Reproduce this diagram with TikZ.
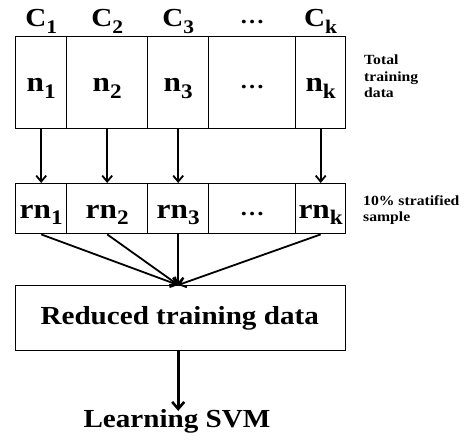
\documentclass[tikz,border=0pt]{standalone}
\usepackage{fontspec}
\setmainfont[FakeStretch=1.12]{Liberation Serif}
\usetikzlibrary{arrows.meta}
% lowered, reduced index for cell and class labels
\newcommand\idx[1]{\raisebox{-0.24em}{\scalebox{0.74}{#1}}}
\tikzset{
  cell/.style={draw, line width=1.4pt, minimum height=92pt, inner sep=0pt, anchor=north west},
  rcell/.style={draw, line width=1.4pt, minimum height=50pt, inner sep=0pt, anchor=north west},
  celltext/.style={font=\bfseries\fontsize{28}{30}\selectfont, inner sep=0pt},
  head/.style={font=\bfseries\fontsize{26}{30}\selectfont, inner sep=0pt, anchor=base},
  side/.style={font=\bfseries\fontsize{14}{16.5}\selectfont, align=left, anchor=north west, inner sep=0pt},
  flow/.style={line width=1.8pt, -{Straight Barb[length=6pt, width=10pt, line width=1.8pt]}},
  bigflow/.style={line width=3.2pt, -{Straight Barb[length=7pt, width=12pt, line width=2.6pt]}}
}
\begin{document}
\begin{tikzpicture}[x=1pt, y=-1pt]
\useasboundingbox (0,0) rectangle (468,441);

% top row: total training data per class
\node[cell, minimum width=51pt] (t1) at (15,36) {};
\node[cell, minimum width=81pt] (t2) at (66,36) {};
\node[cell, minimum width=61pt] (t3) at (147,36) {};
\node[cell, minimum width=87pt] (t4) at (208,36) {};
\node[cell, minimum width=50pt] (tk) at (295,36) {};

\node[celltext, anchor=base] (n1) at (t1.center |- 0,92) {n\idx{1}};
\node[celltext, anchor=base] (n2) at (t2.center |- 0,92) {n\idx{2}};
\node[celltext, anchor=base] (n3) at (t3.center |- 0,92) {n\idx{3}};
\node[celltext, anchor=base] (n4) at (t4.center |- 0,89) {\fontsize{22}{24}\selectfont\ldots};
\node[celltext, anchor=base] (nk) at (tk.center |- 0,92) {n\idx{k}};

% class labels above the columns
\node[head] (c1) at (t1.center |- 0,27) {C\idx{1}};
\node[head] (c2) at (t2.center |- 0,27) {C\idx{2}};
\node[head] (c3) at (t3.center |- 0,27) {C\idx{3}};
\node[head] (c4) at (t4.center |- 0,24) {\fontsize{22}{24}\selectfont\ldots};
\node[head] (ck) at (tk.center |- 0,27) {C\idx{k}};

% second row: stratified sample
\node[rcell, minimum width=51pt] (r1) at (15,183) {};
\node[rcell, minimum width=81pt] (r2) at (66,183) {};
\node[rcell, minimum width=61pt] (r3) at (147,183) {};
\node[rcell, minimum width=87pt] (r4) at (208,183) {};
\node[rcell, minimum width=50pt] (rk) at (295,183) {};

\node[celltext, anchor=base] (rn1) at (r1.center |- 0,218) {rn\idx{1}};
\node[celltext, anchor=base] (rn2) at (r2.center |- 0,218) {rn\idx{2}};
\node[celltext, anchor=base] (rn3) at (r3.center |- 0,218) {rn\idx{3}};
\node[celltext, anchor=base] (rn4) at (r4.center |- 0,215) {\fontsize{22}{24}\selectfont\ldots};
\node[celltext, anchor=base] (rnk) at (rk.center |- 0,218) {rn\idx{k}};

% side notes
\node[side] (note1) at (364,55) {Total\\training\\data};
\node[side] (note2) at (363,195) {10\% stratified\\sample};

% reduced data and the final step
\node[draw, line width=1.4pt, minimum width=330pt, minimum height=65pt, inner sep=0pt,
      anchor=north west, font=\bfseries\fontsize{26}{30}\selectfont] (red) at (15,285)
      {\hspace*{-2pt}Reduced training data};
\coordinate (join) at (red.north -| r3.center);
\node[font=\bfseries\fontsize{26}{30}\selectfont, inner sep=0pt] (svm) at (177,421) {Learning SVM};

\draw[flow] (t1.south) -- (r1.north);
\draw[flow] (t2.south) -- (r2.north);
\draw[flow] (t3.south) -- (r3.north);
\draw[flow] (tk.south) -- (rk.north);

\draw[flow] (r1.south) -- (join);
\draw[flow] (r2.south) -- (join);
\draw[flow] (r3.south) -- (join);
\draw[flow] (rk.south) -- (join);

\draw[bigflow] (red.south -| join) -- ([yshift=-2pt]svm.north -| join);
\end{tikzpicture}
\end{document}
